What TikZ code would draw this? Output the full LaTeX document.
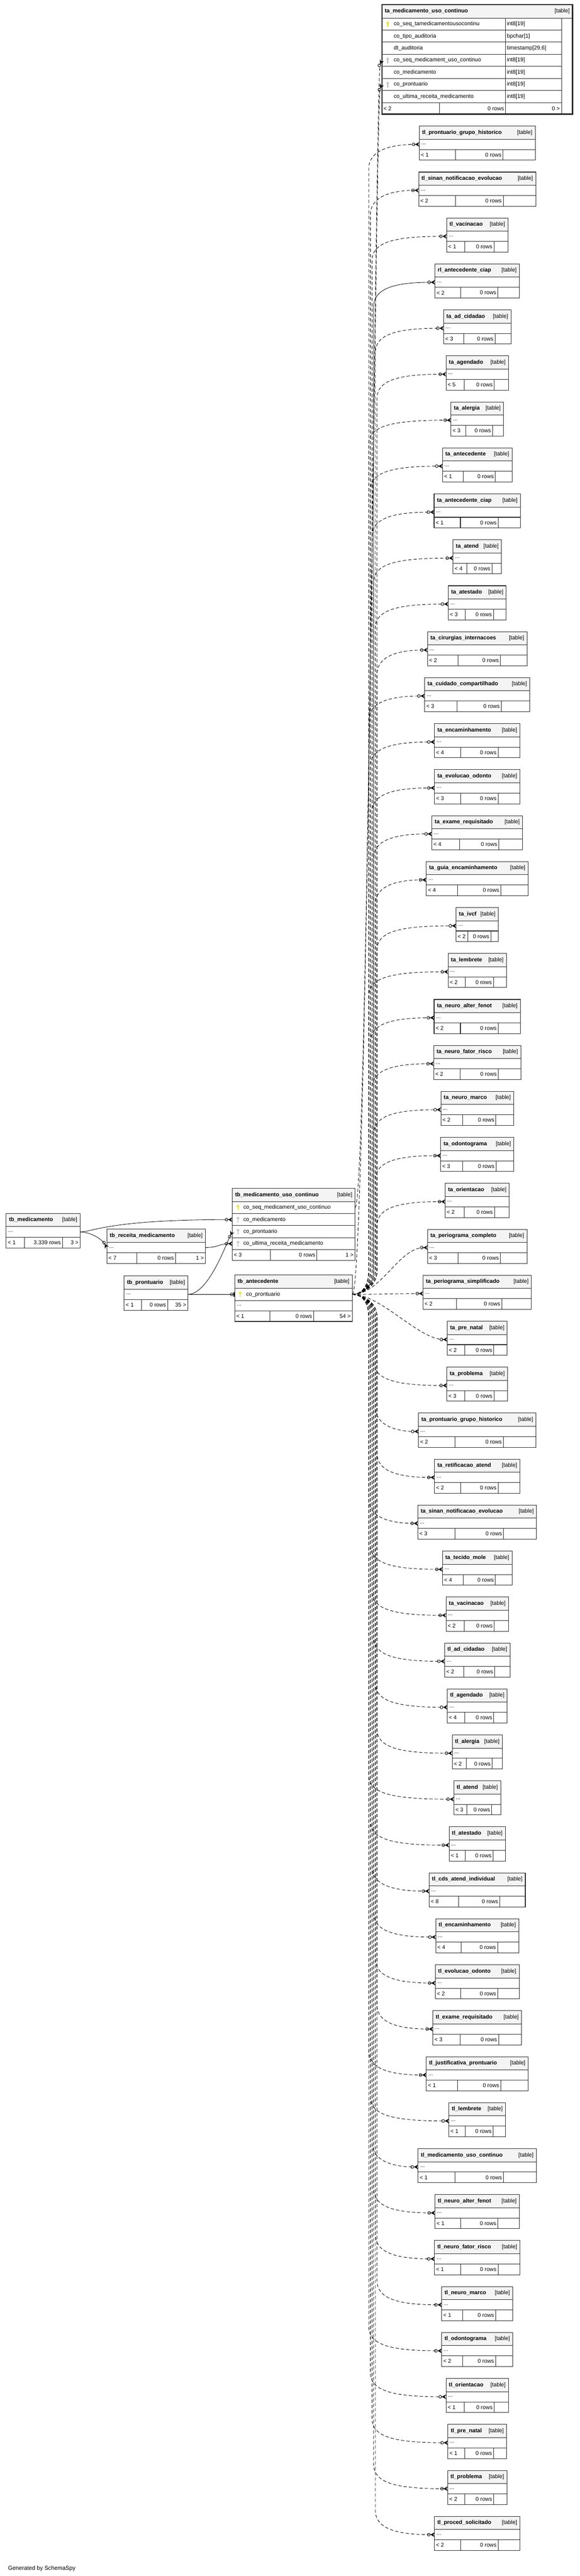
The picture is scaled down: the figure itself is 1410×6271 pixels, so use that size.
\documentclass[tikz,border=0pt]{standalone}
\usepackage{fontspec}
\setmainfont{Liberation Sans}
\usetikzlibrary{arrows.meta,positioning,calc}
\definecolor{tbline}{HTML}{2B2B2B}
\definecolor{tbgray}{HTML}{F4F4F4}
\definecolor{keypk}{HTML}{E5E000}
\definecolor{keyfk}{HTML}{B8B8B8}
\tikzset{
  tbhead/.style = {draw=tbline, line width=1.3pt, fill=tbgray, outer sep=0pt, inner sep=0pt, minimum height=32pt, font=\fontsize{13.5pt}{16pt}\selectfont},
  tbrow/.style = {draw=tbline, line width=1.3pt, fill=white, outer sep=0pt, inner sep=0pt, minimum height=25pt, font=\fontsize{13.5pt}{16pt}\selectfont},
  tbfoot/.style = {tbrow, minimum height=26pt},
  fkdash/.style = {line width=1.1pt, dash pattern=on 8pt off 5pt, -{Circle[open,length=8pt,width=8pt] Stealth[reversed,length=10pt,width=11pt,inset=3pt]}},
  fksolid/.style = {line width=1pt, -{Circle[open,length=8pt,width=8pt] Stealth[reversed,length=10pt,width=11pt,inset=3pt]}},
  fkone/.style = {line width=1pt, -{Circle[open,length=8pt,width=8pt] Rectangle[length=3pt,width=11pt]}},
  keyicon/.pic = {
    \fill (0,-3.5) circle (3pt);
    \fill[white] (0,-3.8) circle (1.1pt);
    \draw[line width=1.8pt] (0,-1) -- (0,7);
    \draw[line width=1.3pt] (0,4.5) -- (2.2,4.5);
  },
}
\begin{document}
\begin{tikzpicture}[x=1pt,y=-1pt]
\path[fill=white, use as bounding box] (0,0) rectangle (1410,6271);

% focused table
\node[tbhead, minimum width=464pt, minimum height=33pt, anchor=north west] (mt-hd) at (929,11)
  {\hbox to 450pt{\textbf{ta\_medicamento\_uso\_continuo}\hfill[table]}};
\foreach \cn/\ct [count=\j] in {co\_seq\_tamedicamentousocontinu/int8[19], co\_tipo\_auditoria/bpchar[1],
  dt\_auditoria/{timestamp[29,6]}, co\_seq\_medicament\_uso\_continuo/int8[19], co\_medicamento/int8[19],
  co\_prontuario/int8[19], co\_ultima\_receita\_medicamento/int8[19]}{
  \node[tbrow, minimum width=301pt, minimum height=29.4pt, anchor=north west] (mn\j)
    at ($(mt-hd.south west)+(0,{(\j-1)*29.4})$) {\hbox to 293pt{\hspace{25pt}\cn\hfill}};
  \node[tbrow, minimum width=136pt, minimum height=29.4pt, right=0pt of mn\j] (mt\j) {\hbox to 130pt{\ct\hfill}};
}
\node[tbrow, minimum width=27pt, minimum height=233.8pt, anchor=north east] (mt-bl) at (mt-hd.south east) {};
\node[tbfoot, minimum width=140pt, minimum height=28pt, anchor=north west] (mf1) at (mn7.south west) {\hbox to 132pt{< 2\hfill}};
\node[tbfoot, minimum width=161pt, minimum height=28pt, right=0pt of mf1] (mf2) {\hbox to 153pt{\hfill 0 rows}};
\node[tbfoot, minimum width=136pt, minimum height=28pt, right=0pt of mf2] (mf3) {\hbox to 128pt{\hfill 0 >}};
\draw[draw=tbline, line width=3pt] (mt-hd.north west) rectangle (mt-bl.south east);
\pic[color=keypk] at ($(mn1.west)+(14,0)$) {keyicon};
\pic[color=keyfk] at ($(mn4.west)+(14,0)$) {keyicon};
\pic[color=keyfk] at ($(mn6.west)+(14,0)$) {keyicon};

% left tables
\foreach \id/\nm/\x/\y/\w/\ca/\cb/\cc/\lt/\nr/\rt in {
  md/tb\_medicamento/15/2954/180/45/92/43/1/3.339/3,
  rc/tb\_receita\_medicamento/260/2992/240/73/94/73/7/0/1,
  pr/tb\_prontuario/302/3106/155/42/64/49/1/0/35}{
  \node[tbhead, minimum width=\w pt, anchor=north west] (\id-hd) at (\x,\y)
    {\hbox to \dimexpr\w pt-14pt\relax{\textbf{\nm}\hfill[table]}};
  \node[tbrow, minimum width=\w pt, minimum height=26pt, below=0pt of \id-hd] (\id-rw)
    {\hbox to \dimexpr\w pt-10pt\relax{...\hfill}};
  \node[tbfoot, minimum width=\ca pt, anchor=north west] (\id-fa) at (\id-rw.south west)
    {\hbox to \dimexpr\ca pt-8pt\relax{< \lt\hfill}};
  \node[tbfoot, minimum width=\cb pt, right=0pt of \id-fa] (\id-fb)
    {\hbox to \dimexpr\cb pt-8pt\relax{\hfill\nr{} rows}};
  \node[tbfoot, minimum width=\cc pt, right=0pt of \id-fb] (\id-fc)
    {\hbox to \dimexpr\cc pt-8pt\relax{\hfill\rt{} >}};
}

\node[tbhead, minimum width=299pt, anchor=north west] (mu-hd) at (565,2893)
  {\hbox to 285pt{\textbf{tb\_medicamento\_uso\_continuo}\hfill[table]}};
\foreach \cn/\kc [count=\j] in {co\_seq\_medicament\_uso\_continuo/keypk, co\_medicamento/keyfk,
  co\_prontuario/keyfk, co\_ultima\_receita\_medicamento/keyfk}{
  \node[tbrow, minimum width=299pt, minimum height=29.3pt, anchor=north west] (mu\j)
    at ($(mu-hd.south west)+(0,{(\j-1)*29.3})$) {\hbox to 291pt{\hspace{23pt}\cn\hfill}};
  \pic[color=\kc] at ($(mu\j.west)+(14,0)$) {keyicon};
}
\node[tbfoot, minimum width=93pt, anchor=north west] (mu-fa) at (mu4.south west) {\hbox to 85pt{< 3\hfill}};
\node[tbfoot, minimum width=113pt, right=0pt of mu-fa] (mu-fb) {\hbox to 105pt{\hfill 0 rows}};
\node[tbfoot, minimum width=93pt, right=0pt of mu-fb] (mu-fc) {\hbox to 85pt{\hfill 1 >}};

\node[tbhead, minimum width=286pt, anchor=north west] (an-hd) at (571,3104)
  {\hbox to 272pt{\textbf{tb\_antecedente}\hfill[table]}};
\node[tbrow, minimum width=286pt, minimum height=30pt, below=0pt of an-hd] (an-pk)
  {\hbox to 278pt{\hspace{24pt}co\_prontuario\hfill}};
\pic[color=keypk] at ($(an-pk.west)+(13,0)$) {keyicon};
\node[tbrow, minimum width=286pt, below=0pt of an-pk] (an-rw) {\hbox to 276pt{...\hfill}};
\node[tbfoot, minimum width=85pt, anchor=north west] (an-fa) at (an-rw.south west) {\hbox to 77pt{< 1\hfill}};
\node[tbfoot, minimum width=107pt, right=0pt of an-fa] (an-fb) {\hbox to 99pt{\hfill 0 rows}};
\node[tbfoot, minimum width=94pt, right=0pt of an-fb] (an-fc) {\hbox to 86pt{\hfill 54 >}};

\draw[fksolid] (md-rw.east) .. controls +(30,0) and +(-300,0) .. (mu2.west);
\draw[fksolid] (md-rw.east) .. controls +(20,0) and +(-15,-25) .. (rc-rw.west);
\draw[fksolid] (rc-rw.east) .. controls +(30,0) and +(-30,0) .. (mu4.west);
\draw[fksolid] (pr-rw.east) .. controls +(50,0) and +(-15,30) .. (mu3.west);
\draw[fkone] (pr-rw.east) -- (an-pk.west);
\draw[fkdash] (mu1.east) .. controls +(30,0) and +(-15,30) .. (mn4.west);
\draw[fkdash] (an-pk.east) .. controls +(35,0) and +(-15,30) .. (mn6.west);

% child tables of tb_antecedente
\foreach \nm/\rc/\w [count=\i from 0] in {
  tl\_prontuario\_grupo\_historico/1/282, tl\_sinan\_notificacao\_evolucao/2/285, tl\_vacinacao/1/149,
  rl\_antecedente\_ciap/2/206, ta\_ad\_cidadao/3/164, ta\_agendado/5/152, ta\_alergia/3/128,
  ta\_antecedente/1/169, ta\_antecedente\_ciap/1/210, ta\_atend/4/118, ta\_atestado/3/141,
  ta\_cirurgias\_internacoes/2/242, ta\_cuidado\_compartilhado/3/256, ta\_encaminhamento/4/208,
  ta\_evolucao\_odonto/3/208, ta\_exame\_requisitado/4/221, ta\_guia\_encaminhamento/4/248,
  ta\_ivcf/2/103, ta\_lembrete/2/142, ta\_neuro\_alter\_fenot/2/210, ta\_neuro\_fator\_risco/2/212,
  ta\_neuro\_marco/2/177, ta\_odontograma/3/178, ta\_orientacao/2/156, ta\_periograma\_completo/3/242,
  ta\_periograma\_simplificado/2/264, ta\_pre\_natal/2/146, ta\_problema/3/148,
  ta\_prontuario\_grupo\_historico/2/286, ta\_retificacao\_atend/2/208,
  ta\_sinan\_notificacao\_evolucao/3/289, ta\_tecido\_mole/4/169, ta\_vacinacao/2/152,
  tl\_ad\_cidadao/2/159, tl\_agendado/4/146, tl\_alergia/2/122, tl\_atend/3/114, tl\_atestado/1/137,
  tl\_cds\_atend\_individual/8/234, tl\_encaminhamento/4/202, tl\_evolucao\_odonto/2/204,
  tl\_exame\_requisitado/3/216, tl\_justificativa\_prontuario/1/248, tl\_lembrete/1/138,
  tl\_medicamento\_uso\_continuo/1/288, tl\_neuro\_alter\_fenot/1/206, tl\_neuro\_fator\_risco/1/208,
  tl\_neuro\_marco/1/173, tl\_odontograma/2/173, tl\_orientacao/1/152, tl\_pre\_natal/1/143,
  tl\_problema/2/144, tl\_proced\_solicitado/2/208}{
  \pgfmathsetmacro\e{(\w-108)/3}
  \pgfmathsetmacro\ca{30+\e}
  \pgfmathsetmacro\cc{20+\e}
  \pgfmathsetmacro\cb{\w-\ca-\cc}
  \node[tbhead, minimum width=\w pt, anchor=north] (hd\i) at (1161,{307+111.9*\i})
    {\hbox to \dimexpr\w pt-14pt\relax{\textbf{\nm}\hfill[table]}};
  \node[tbrow, minimum width=\w pt, below=0pt of hd\i] (rw\i) {\hbox to \dimexpr\w pt-10pt\relax{...\hfill}};
  \node[tbfoot, minimum width=\ca pt, anchor=north west] (fa\i) at (rw\i.south west)
    {\hbox to \dimexpr\ca pt-8pt\relax{< \rc\hfill}};
  \node[tbfoot, minimum width=\cb pt, right=0pt of fa\i] (fb\i) {\hbox to \dimexpr\cb pt-8pt\relax{\hfill 0 rows}};
  \node[tbfoot, minimum width=\cc pt, right=0pt of fb\i] (fc\i) {};
  \pgfmathsetmacro\ty{351.5+111.9*\i}
  \pgfmathsetmacro\xv{897+4*mod(\i,6)}
  \pgfmathtruncatemacro\far{abs(\ty-3150)>150}
  \pgfmathtruncatemacro\sg{\ty>3150 ? 1 : -1}
  \ifnum\i=3 \def\ls{fksolid}\else\def\ls{fkdash}\fi
  \ifnum\far=1
    \draw[\ls] (an-pk.east) .. controls +(22,0) and (\xv,{3150+18*(\sg)}) .. (\xv,{3150+55*(\sg)})
      -- (\xv,{\ty-60*(\sg)}) .. controls (\xv,{\ty-15*(\sg)}) and (\xv+50,\ty) .. (rw\i.west);
  \else
    \draw[\ls] (an-pk.east) .. controls +(70,0) and +(-70,0) .. (rw\i.west);
  \fi
}

\node[font=\fontsize{14pt}{16pt}\selectfont, anchor=base west] (gen) at (16,6257) {Generated by SchemaSpy};
\end{tikzpicture}
\end{document}
